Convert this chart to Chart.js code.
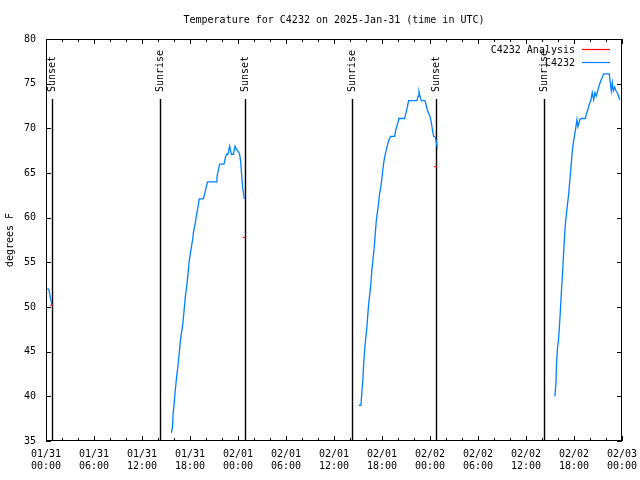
<!DOCTYPE html>
<html>
<head>
<meta charset="utf-8">
<script src="https://cdn.jsdelivr.net/npm/chart.js@4.4.1/dist/chart.umd.min.js"></script>
<style>
  html, body { margin: 0; padding: 0; background: #fff; }
  #wrap { width: 640px; height: 480px; }
</style>
</head>
<body>
<div id="wrap"><canvas id="grafico" width="640" height="480"></canvas></div>
<script>
// hours since 2025-01-31 00:00 UTC, null = gap in the record
const obsHours = [
  0.05, 0.35, 0.45, 0.55, 0.70, 0.76, null,
  15.69, 15.82, 15.90, 16.03, 16.15, 16.32, 16.49, 16.65, 16.82, 16.99,
  17.15, 17.28, 17.41, 17.57, 17.74, 17.91, 18.12, 18.32, 18.44, 18.62,
  18.82, 19.00, 19.16, 19.66, 19.82, 20.00, 20.20, 21.25, 21.37, 21.54,
  21.70, 22.25, 22.41, 22.58, 22.75, 22.95, 23.17, 23.42, 23.63, 23.83,
  24.04, 24.20, 24.33, 24.46, 24.58, 24.71, 24.79, null,
  39.11, 39.36, 39.48, 39.61, 39.73, 39.86, 39.98, 40.11, 40.23, 40.36,
  40.48, 40.61, 40.73, 40.86, 41.03, 41.16, 41.28, 41.41, 41.57, 41.70,
  41.86, 41.99, 42.11, 42.24, 42.41, 42.54, 42.70, 42.86, 43.08, 43.58,
  43.74, 43.92, 44.11, 44.83, 44.99, 45.17, 45.33, 46.37, 46.50, 46.62,
  46.80, 46.92, 47.37, 47.55, 47.71, 47.87, 48.05, 48.21, 48.33, 48.46,
  48.67, 48.80, 48.87, null,
  63.61, 63.74, 63.82, 63.95, 64.07, 64.20, 64.33, 64.45, 64.58, 64.70,
  64.83, 64.95, 65.08, 65.20, 65.33, 65.45, 65.58, 65.70, 65.78, 65.95,
  66.12, 66.24, 66.37, 66.49, 66.62, 66.74, 66.87, 67.40, 67.58, 67.74,
  67.91, 68.12, 68.28, 68.46, 68.62, 68.78, 68.96, 69.12, 69.33, 69.53,
  69.71, 70.41, 70.54, 70.66, 70.79, 70.91, 71.09, 71.24, 71.41, 71.58,
  71.71
];
const obsTemps = [
  52.0, 52.0, 51.5, 51.0, 50.4, 50.2, null,
  35.9, 36.7, 38.2, 39.3, 40.6, 42.1, 43.4, 44.8, 46.4, 47.4,
  48.5, 49.8, 51.1, 52.2, 53.6, 55.2, 56.4, 57.5, 58.4, 59.2,
  60.3, 61.2, 62.1, 62.1, 62.6, 63.3, 64.0, 64.0, 64.6, 65.3,
  66.0, 66.0, 66.7, 67.1, 67.1, 68.0, 67.1, 67.1, 68.0, 67.6,
  67.4, 67.1, 66.3, 64.7, 63.4, 62.6, 62.1, null,
  39.0, 39.0, 40.4, 41.9, 44.0, 45.5, 46.6, 47.7, 49.2, 50.6,
  51.5, 52.6, 54.1, 55.2, 56.7, 58.2, 59.6, 60.5, 61.6, 62.7,
  63.5, 64.4, 65.4, 66.3, 67.1, 67.6, 68.2, 68.7, 69.1, 69.1,
  69.9, 70.4, 71.1, 71.1, 71.7, 72.4, 73.1, 73.1, 73.6, 74.1,
  73.4, 73.1, 73.1, 72.5, 71.9, 71.6, 71.2, 70.4, 69.7, 69.1,
  69.0, 68.4, 68.1, null,
  40.0, 41.4, 43.8, 45.5, 46.4, 48.1, 50.1, 52.1, 54.0, 56.0,
  58.1, 59.6, 60.6, 61.6, 62.6, 63.9, 65.2, 66.5, 67.4, 68.6,
  69.5, 70.2, 71.0, 70.2, 70.6, 71.0, 71.1, 71.1, 71.7, 72.1,
  72.7, 73.2, 74.0, 73.2, 74.0, 73.6, 74.2, 74.7, 75.3, 75.7,
  76.1, 76.1, 75.1, 74.2, 75.1, 74.2, 74.6, 74.2, 74.0, 73.6,
  73.2
];

const analysisHours = [0.71, 24.75, 48.67];
const analysisTemps = [50.2, 57.8, 65.7];

const sunHours = [0.79, 14.19, 24.83, 38.23, 48.75, 62.27];
const sunLabels = ["Sunset", "Sunrise", "Sunset", "Sunrise", "Sunset", "Sunrise"];

const dayLabels = ["01/31", "01/31", "01/31", "01/31", "02/01", "02/01", "02/01",
                   "02/01", "02/02", "02/02", "02/02", "02/02", "02/03"];
const timeLabels = ["00:00", "06:00", "12:00", "18:00", "00:00", "06:00", "12:00",
                    "18:00", "00:00", "06:00", "12:00", "18:00", "00:00"];

const titulo = "Temperature for C4232 on 2025-Jan-31 (time in UTC)";

const MONO = "'DejaVu Sans Mono', 'Liberation Mono', monospace";
const corAnalise = "#ff0000";
const corObs = "#0080ff";

Chart.defaults.font.family = MONO;
Chart.defaults.font.size = 10;
Chart.defaults.color = "#000";

const moldura = {
  id: "moldura",
  beforeDatasetsDraw(chart) {
    // sunrise / sunset markers
    const { ctx, chartArea: a, scales: { x } } = chart;
    ctx.save();
    ctx.strokeStyle = "#000";
    ctx.lineWidth = 1.4;
    ctx.fillStyle = "#000";
    ctx.font = "10px " + MONO;
    sunHours.forEach((h, i) => {
      const px = Math.round(x.getPixelForValue(h)) + 0.5;
      ctx.beginPath();
      ctx.moveTo(px, a.top + 60);
      ctx.lineTo(px, a.bottom);
      ctx.stroke();
      ctx.save();
      ctx.translate(px, a.top + 53);
      ctx.rotate(-Math.PI / 2);
      ctx.textAlign = "left";
      ctx.textBaseline = "middle";
      ctx.fillText(sunLabels[i], 0, 0);
      ctx.restore();
    });
    ctx.restore();
  },
  afterDraw(chart) {
    const { ctx, chartArea: a, scales: { x, y } } = chart;
    ctx.save();
    ctx.strokeStyle = "#000";
    ctx.lineWidth = 1;
    ctx.strokeRect(a.left + 0.5, a.top + 0.5, a.right - a.left - 1, a.bottom - a.top - 1);

    // inward tick marks
    ctx.beginPath();
    x.ticks.forEach(t => {
      const px = Math.round(x.getPixelForValue(t.value)) + 0.5;
      const len = t.value % 6 === 0 ? 5 : 3;
      ctx.moveTo(px, a.bottom); ctx.lineTo(px, a.bottom - len);
      ctx.moveTo(px, a.top); ctx.lineTo(px, a.top + len);
    });
    y.ticks.forEach(t => {
      const py = Math.round(y.getPixelForValue(t.value)) + 0.5;
      ctx.moveTo(a.left, py); ctx.lineTo(a.left + 5, py);
      ctx.moveTo(a.right, py); ctx.lineTo(a.right - 5, py);
    });
    ctx.stroke();

    ctx.font = "10px " + MONO;
    ctx.fillStyle = "#000";
    ctx.textAlign = "center";
    ctx.textBaseline = "middle";
    ctx.fillText(titulo, (a.left + a.right) / 2, 20);

    // legend, top right inside the plot
    ctx.textAlign = "right";
    chart.data.datasets.forEach((ds, i) => {
      const ly = a.top + 11 + i * 13;
      ctx.fillStyle = "#000";
      ctx.fillText(ds.label, a.right - 47, ly);
      ctx.strokeStyle = ds.borderColor;
      ctx.lineWidth = 1.2;
      ctx.beginPath();
      ctx.moveTo(a.right - 40, ly - 0.5);
      ctx.lineTo(a.right - 12, ly - 0.5);
      ctx.stroke();
    });
    ctx.restore();
  }
};

new Chart(document.getElementById("grafico"), {
  type: "line",
  data: {
    datasets: [
      {
        label: "C4232 Analysis",
        data: analysisHours.map((h, i) => ({ x: h, y: analysisTemps[i] })),
        borderColor: corAnalise,
        backgroundColor: corAnalise,
        showLine: false,
        pointStyle: "line",
        pointRadius: 1.5,
        borderWidth: 1
      },
      {
        label: "C4232",
        data: obsHours.map((h, i) => ({ x: h, y: obsTemps[i] })),
        borderColor: corObs,
        borderWidth: 1.3,
        pointRadius: 0,
        spanGaps: false,
        tension: 0
      }
    ]
  },
  options: {
    responsive: false,
    animation: false,
    layout: { padding: { top: 39, right: 18 } },
    plugins: {
      legend: { display: false },
      tooltip: { enabled: false },
      title: { display: false }
    },
    scales: {
      x: {
        type: "linear",
        min: 0,
        max: 72,
        afterFit: s => { s.height = 39; s.paddingLeft = 0; s.paddingRight = 0; },
        grid: { display: false, drawTicks: false },
        border: { display: false },
        ticks: {
          stepSize: 2,
          autoSkip: false,
          maxRotation: 0,
          padding: 7,
          font: { family: MONO, size: 10, lineHeight: 1.25 },
          callback: v => (v % 6 === 0 ? [dayLabels[v / 6], timeLabels[v / 6]] : "")
        }
      },
      y: {
        min: 35,
        max: 80,
        afterFit: s => { s.width = 46; },
        grid: { display: false, drawTicks: false },
        border: { display: false },
        ticks: { stepSize: 5, padding: 10, font: { family: MONO, size: 10 } },
        title: {
          display: true,
          text: "degrees F",
          color: "#000",
          font: { family: MONO, size: 10 },
          padding: { top: 4, bottom: 0 }
        }
      }
    }
  },
  plugins: [moldura]
});
</script>
</body>
</html>
